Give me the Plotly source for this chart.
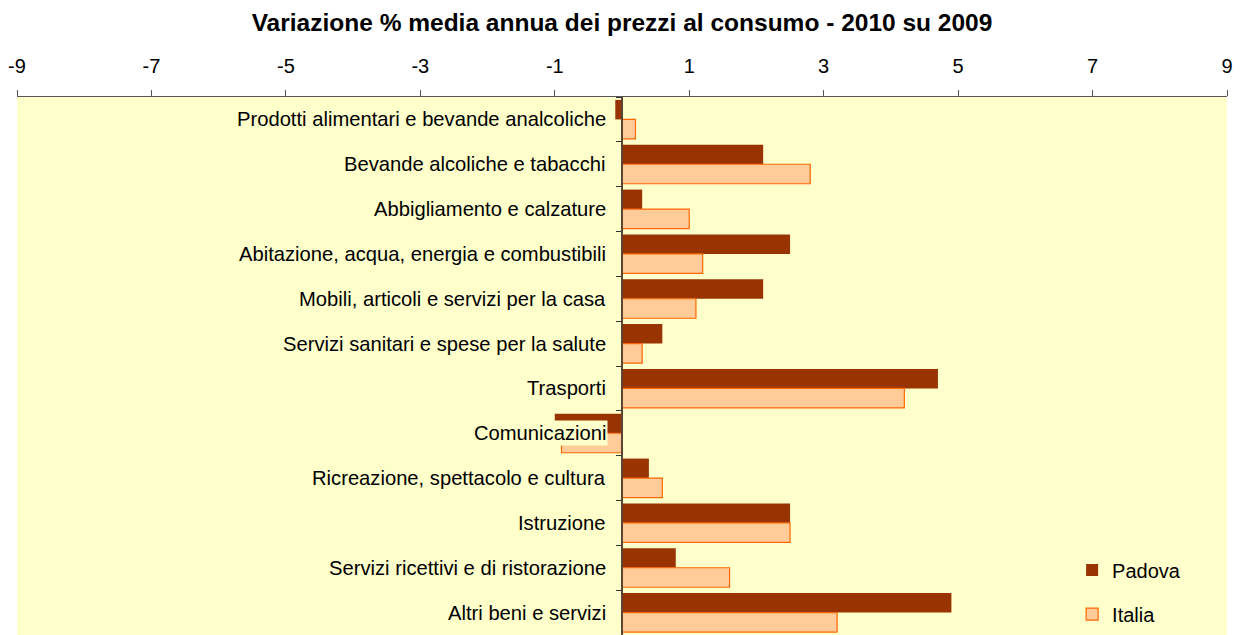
import plotly.graph_objects as go

categories = [
    "Prodotti alimentari e bevande analcoliche",
    "Bevande alcoliche e tabacchi",
    "Abbigliamento e calzature",
    "Abitazione, acqua, energia e combustibili",
    "Mobili, articoli e servizi per la casa",
    "Servizi sanitari e spese per la salute",
    "Trasporti",
    "Comunicazioni",
    "Ricreazione, spettacolo e cultura",
    "Istruzione",
    "Servizi ricettivi e di ristorazione",
    "Altri beni e servizi",
]
padova = [-0.1, 2.1, 0.3, 2.5, 2.1, 0.6, 4.7, -1.0, 0.4, 2.5, 0.8, 4.9]
italia = [0.2, 2.8, 1.0, 1.2, 1.1, 0.3, 4.2, -0.9, 0.6, 2.5, 1.6, 3.2]
x_ticks = [-9, -7, -5, -3, -1, 1, 3, 5, 7, 9]

FONT = "Arial, 'Liberation Sans', sans-serif"
BG = "#FFFFCC"

fig = go.Figure()
fig.add_trace(go.Bar(
    y=categories, x=padova, orientation="h", name="Padova",
    marker=dict(color="#993300", line=dict(color="#993300", width=0)),
    legendgroup="a",
))
fig.add_trace(go.Bar(
    y=categories, x=italia, orientation="h", name="Italia",
    marker=dict(color="#FFCC99", line=dict(color="#FF6600", width=1.2)),
    legendgroup="b",
))

for c in categories:
    fig.add_annotation(
        x=0, y=c, xref="x", yref="y", text=c, showarrow=False,
        xanchor="right", yanchor="middle", xshift=-14,
        font=dict(family=FONT, size=20.2, color="#000000"),
        bgcolor=BG, borderpad=1,
    )

fig.update_layout(
    width=1236, height=627,
    margin=dict(l=9, r=17, t=89, b=0),
    paper_bgcolor="white", plot_bgcolor=BG,
    barmode="group", bargap=0.13, bargroupgap=0,
    title=dict(
        text="<b>Variazione % media annua dei prezzi al consumo - 2010 su 2009</b>",
        x=(622 - 8) / 1236, xanchor="center", y=1 - 14 / 627, yanchor="middle",
        font=dict(family=FONT, size=24.5, color="#000000"),
    ),
    font=dict(family=FONT, size=20, color="#000000"),
    xaxis=dict(
        side="top", range=[-9, 9], tickvals=x_ticks,
        ticktext=[str(v) for v in x_ticks],
        showgrid=False, zeroline=False,
        showline=True, linecolor="#555555", linewidth=1,
        ticks="outside", ticklen=6, tickcolor="#555555",
        ticklabelstandoff=9,
        tickfont=dict(family=FONT, size=20, color="#000000"),
    ),
    yaxis=dict(
        autorange="reversed", anchor="free", position=0.5,
        showgrid=False, zeroline=False,
        showline=True, linecolor="#5a4632", linewidth=1.5,
        ticks="outside", ticklen=5, tickcolor="#333333", tickson="boundaries",
        showticklabels=False,
    ),
    legend=dict(
        x=0.872, y=0.157, xanchor="left", yanchor="top",
        bgcolor="rgba(0,0,0,0)", tracegroupgap=15, traceorder="grouped",
        font=dict(family=FONT, size=20, color="#000000"),
    ),
    showlegend=True,
)

fig.write_html("out.html")
